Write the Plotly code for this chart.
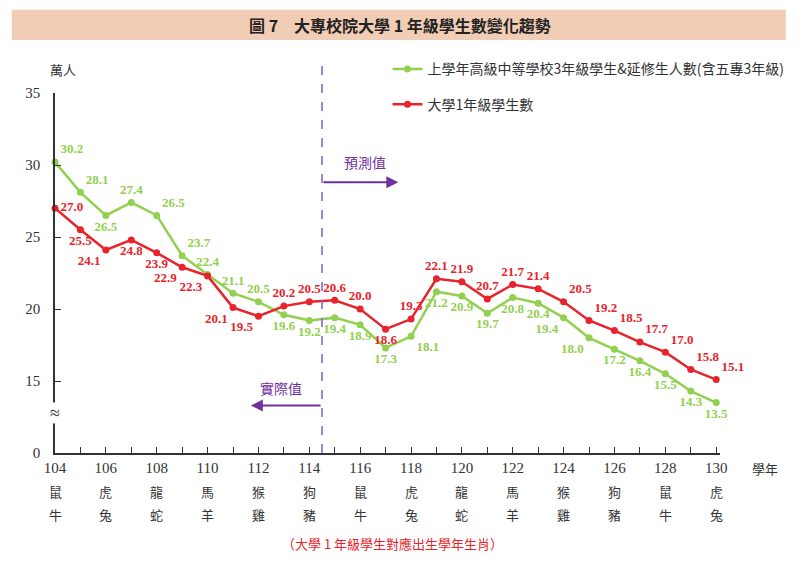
import plotly.graph_objects as go

# 學年 (academic years) and values in 萬人
years = list(range(104, 131))
hs_grad = [30.2, 28.1, 26.5, 27.4, 26.5, 23.7, 22.4, 21.1, 20.5, 19.6, 19.2, 19.4, 18.9, 17.3,
           18.1, 21.2, 20.9, 19.7, 20.8, 20.4, 19.4, 18.0, 17.2, 16.4, 15.5, 14.3, 13.5]
uni_first = [27.0, 25.5, 24.1, 24.8, 23.9, 22.9, 22.3, 20.1, 19.5, 20.2, 20.5, 20.6, 20.0, 18.6,
             19.3, 22.1, 21.9, 20.7, 21.7, 21.4, 20.5, 19.2, 18.5, 17.7, 17.0, 15.8, 15.1]

# zodiac pairs under every second year
label_years = list(range(104, 131, 2))
zodiac_top = ["鼠", "虎", "龍", "馬", "猴", "狗", "鼠", "虎", "龍", "馬", "猴", "狗", "鼠", "虎"]
zodiac_bot = ["牛", "兔", "蛇", "羊", "雞", "豬", "牛", "兔", "蛇", "羊", "雞", "豬", "牛", "兔"]

# y axis is broken: 10 on the scale is drawn as 0
y_tickvals = [10, 15, 20, 25, 30, 35]
y_ticktext = ["0", "15", "20", "25", "30", "35"]

GREEN = "#92D050"
RED = "#E8232B"
PURPLE = "#7030A0"
SERIF = "Liberation Serif, Noto Sans CJK TC"
CJK = "Noto Sans CJK TC"

green_pos = ["top right", "top right", "bottom center", "top center", "top right", "top right",
             "top center", "top center", "top center", "bottom center", "bottom center",
             "bottom center", "bottom center", "bottom center", "bottom right", "bottom center",
             "bottom center", "bottom center", "bottom center", "bottom center", "bottom left",
             "bottom left", "bottom center", "bottom center", "bottom center", "bottom center",
             "bottom center"]
red_pos = ["middle right", "bottom center", "bottom left", "bottom center", "bottom center",
           "bottom left", "bottom left", "bottom left", "bottom left", "top center",
           "top center", "top center", "top center", "bottom center", "top center",
           "top center", "top center", "top center", "top center", "top center", "top right",
           "top right", "top right", "top right", "top right", "top right", "top right"]

fig = go.Figure()

fig.add_trace(go.Scatter(
    x=years, y=hs_grad, mode="lines+markers+text",
    name="上學年高級中等學校3年級學生&延修生人數(含五專3年級)",
    line=dict(color=GREEN, width=2.5), marker=dict(color=GREEN, size=7),
    text=[f"<b>{v:.1f}</b>" for v in hs_grad], textposition=green_pos,
    textfont=dict(family=SERIF, size=13, color=GREEN),
    legendgroup="a", cliponaxis=False,
))
fig.add_trace(go.Scatter(
    x=years, y=uni_first, mode="lines+markers+text",
    name="大學1年級學生數",
    line=dict(color=RED, width=2.5), marker=dict(color=RED, size=7),
    text=[f"<b>{v:.1f}</b>" for v in uni_first], textposition=red_pos,
    textfont=dict(family=SERIF, size=13, color=RED),
    legendgroup="b", cliponaxis=False,
))

# title band
fig.add_shape(type="rect", xref="paper", yref="paper", x0=-0.065, x1=1.099, y0=1.147, y1=1.231,
              fillcolor="#F2CDB5", line=dict(width=0), layer="below")
fig.add_annotation(xref="paper", yref="paper", x=0.519, y=1.189, showarrow=False,
                   xanchor="center", yanchor="middle",
                   text="<b>圖 7　大專校院大學 1 年級學生數變化趨勢</b>",
                   font=dict(family=CJK, size=16, color="#222"))

# actual / forecast divider
fig.add_shape(type="line", xref="x", yref="paper", x0=114.5, x1=114.5, y0=0, y1=1.078,
              line=dict(color="#8060C0", width=1.5, dash="dash"))
fig.add_annotation(x=117.5, y=28.8, ax=114.5, ay=28.8, axref="x", ayref="y",
                   showarrow=True, arrowhead=2, arrowsize=1.2, arrowwidth=2, arrowcolor=PURPLE,
                   text="")
fig.add_annotation(x=116.2, y=30.2, showarrow=False, text="預測值",
                   font=dict(family=CJK, size=14, color=PURPLE))
fig.add_annotation(x=111.7, y=13.3, ax=114.5, ay=13.3, axref="x", ayref="y",
                   showarrow=True, arrowhead=2, arrowsize=1.2, arrowwidth=2, arrowcolor=PURPLE,
                   text="")
fig.add_annotation(x=112.9, y=14.5, showarrow=False, text="實際值",
                   font=dict(family=CJK, size=14, color=PURPLE))

# axis break mark
fig.add_annotation(x=104, y=12.8, showarrow=False, text="≈", bgcolor="white",
                   font=dict(family=SERIF, size=18, color="#333"), borderpad=0)

# unit labels
fig.add_annotation(xref="paper", yref="paper", x=0.012, y=1.064, showarrow=False, text="萬人",
                   xanchor="center", yanchor="middle",
                   font=dict(family=CJK, size=13, color="#333"))
fig.add_annotation(xref="paper", yref="paper", x=1.068, y=-0.042, showarrow=False, text="學年",
                   xanchor="center", yanchor="middle",
                   font=dict(family=CJK, size=13, color="#333"))

# zodiac rows
for yr, top, bot in zip(label_years, zodiac_top, zodiac_bot):
    fig.add_annotation(x=yr, yref="paper", y=-0.108, showarrow=False, text=top,
                       xanchor="center", yanchor="middle",
                       font=dict(family=CJK, size=13, color="#333"))
    fig.add_annotation(x=yr, yref="paper", y=-0.172, showarrow=False, text=bot,
                       xanchor="center", yanchor="middle",
                       font=dict(family=CJK, size=13, color="#333"))

fig.add_annotation(xref="paper", yref="paper", x=0.507, y=-0.25, showarrow=False,
                   xanchor="center", yanchor="middle",
                   text="（大學 1 年級學生對應出生學年生肖）",
                   font=dict(family=CJK, size=13, color=RED))

fig.update_layout(
    width=800, height=572,
    margin=dict(l=47, r=88, t=85, b=127),
    paper_bgcolor="white", plot_bgcolor="white",
    showlegend=True,
    legend=dict(x=0.5, y=1.11, xanchor="left", yanchor="top", bgcolor="rgba(0,0,0,0)",
                font=dict(family=CJK, size=14, color="#333"), tracegroupgap=14,
                itemwidth=30),
)
fig.update_xaxes(
    range=[104, 130.15], showgrid=False, zeroline=False,
    showline=True, linecolor="#333", linewidth=1.5,
    tickvals=years, ticktext=[str(y) if y % 2 == 0 else "" for y in years],
    ticks="inside", ticklen=6, tickcolor="#333",
    tickfont=dict(family=SERIF, size=15, color="#333"),
)
fig.update_yaxes(
    range=[10, 35], showgrid=False, zeroline=False,
    showline=True, linecolor="#333", linewidth=1.5,
    tickvals=y_tickvals, ticktext=y_ticktext,
    ticks="inside", ticklen=6, tickcolor="#333", ticklabelstandoff=10,
    tickfont=dict(family=SERIF, size=15, color="#333"),
)

fig.write_html("out.html")
